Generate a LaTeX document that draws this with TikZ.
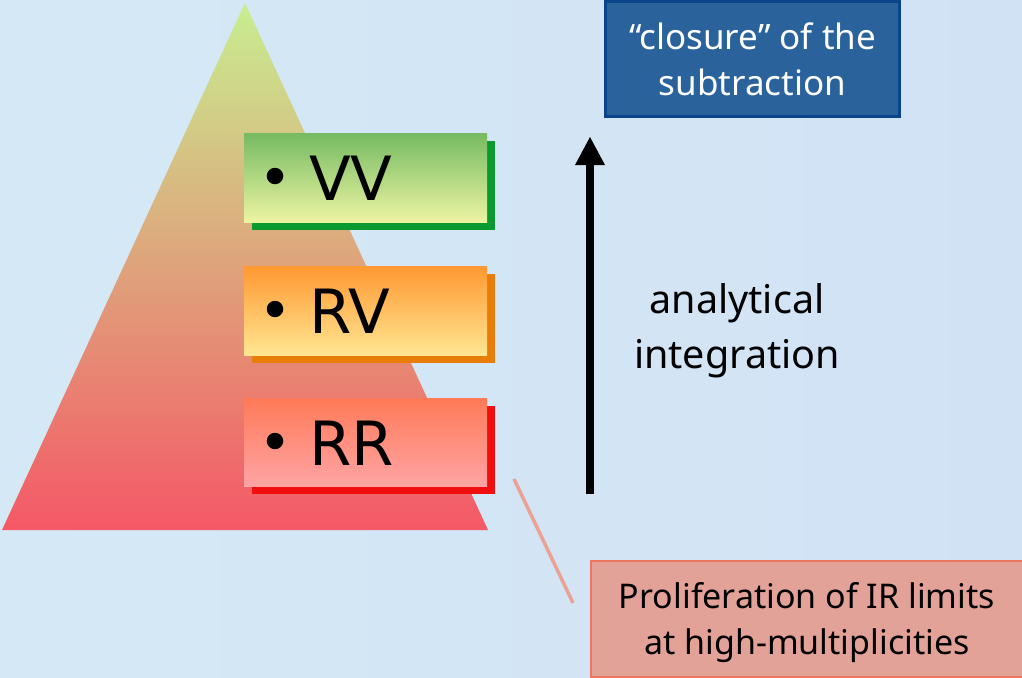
\documentclass[tikz,border=0pt]{standalone}
\usepackage{fontspec}
\setmainfont{Noto Sans}
\newfontfamily\lvlfont{DejaVu Sans}
\definecolor{bgA}{HTML}{D4E9F5}
\definecolor{bgB}{HTML}{D2E2F5}
\definecolor{pyrT}{RGB}{200,238,144}
\definecolor{pyrM}{RGB}{224,160,125}
\definecolor{pyrB}{RGB}{245,88,102}
\definecolor{vvS}{RGB}{10,154,48}
\definecolor{vvT}{RGB}{118,186,98}
\definecolor{vvB}{RGB}{236,244,162}
\definecolor{rvS}{RGB}{232,125,10}
\definecolor{rvT}{RGB}{255,152,50}
\definecolor{rvB}{RGB}{255,230,145}
\definecolor{rrS}{RGB}{240,14,14}
\definecolor{rrT}{RGB}{255,122,88}
\definecolor{rrB}{RGB}{255,164,164}
\definecolor{clD}{RGB}{10,68,138}
\definecolor{clF}{RGB}{42,98,156}
\definecolor{prD}{RGB}{238,118,96}
\definecolor{prF}{RGB}{227,162,152}
\definecolor{lnC}{RGB}{234,162,148}
\begin{document}
\begin{tikzpicture}[x=1pt,y=-1pt,
  every node/.style={inner sep=0pt},
  lvl/.style={anchor=base west,font=\lvlfont\fontsize{61}{61}\selectfont},
  bul/.style={circle,fill=black,minimum size=16.5pt},
]
\shade[left color=bgA,right color=bgB] (0,0) rectangle (1022,677);
\useasboundingbox (0,0) rectangle (1022,677);
% pyramid
\shade[top color=pyrT,middle color=pyrM,bottom color=pyrB]
  (245,3) -- (488,530) -- (2,530) -- cycle;
% VV
\fill[vvS] (252,141) rectangle (495,230);
\shade[top color=vvT,bottom color=vvB] (244,133) rectangle (487,222);
\node[bul] (vvb) at (275,176) {};
\node[lvl] (vv) at (309,200) {VV};
% RV
\fill[rvS] (252,274) rectangle (495,363);
\shade[top color=rvT,bottom color=rvB] (244,266) rectangle (487,355);
\node[bul] (rvb) at (275,309) {};
\node[lvl] (rv) at (309,333) {RV};
% RR
\fill[rrS] (252,406) rectangle (495,494);
\shade[top color=rrT,bottom color=rrB] (244,398) rectangle (487,486);
\node[bul] (rrb) at (275,441) {};
\node[lvl] (rr) at (309,465) {RR};
% arrow
\coordinate (a0) at (590,494);
\coordinate (a1) at (590,137);
\draw[line width=8pt] (a0) -- (590,165);
\fill (575,165) -- (605,165) -- (a1) -- cycle;
\node[align=center,font=\fontsize{39.5}{55}\selectfont] (ai) at (737,331) {analytical\\integration};
% closure box
\node[draw=clD,line width=2.5pt,fill=clF,
  minimum width=294pt,minimum height=115pt,text=white,align=center,
  font=\fontsize{35}{46}\selectfont] (cl) at (752.5,59) {“closure” of the\\subtraction};
% proliferation box
\node[draw=prD,line width=2.5pt,fill=prF,
  minimum width=434pt,minimum height=116pt,align=center,
  font=\fontsize{34}{46}\selectfont] (pr) at (808,619) {};
\node[align=center,font=\fontsize{34}{46}\selectfont] (prt) at (807,623) {Proliferation of IR limits\\at high-multiplicities};
\coordinate (l0) at (514,479);
\coordinate (l1) at (573,603);
\draw[line width=3.5pt,lnC] (l0) -- (l1);
\end{tikzpicture}
\end{document}
